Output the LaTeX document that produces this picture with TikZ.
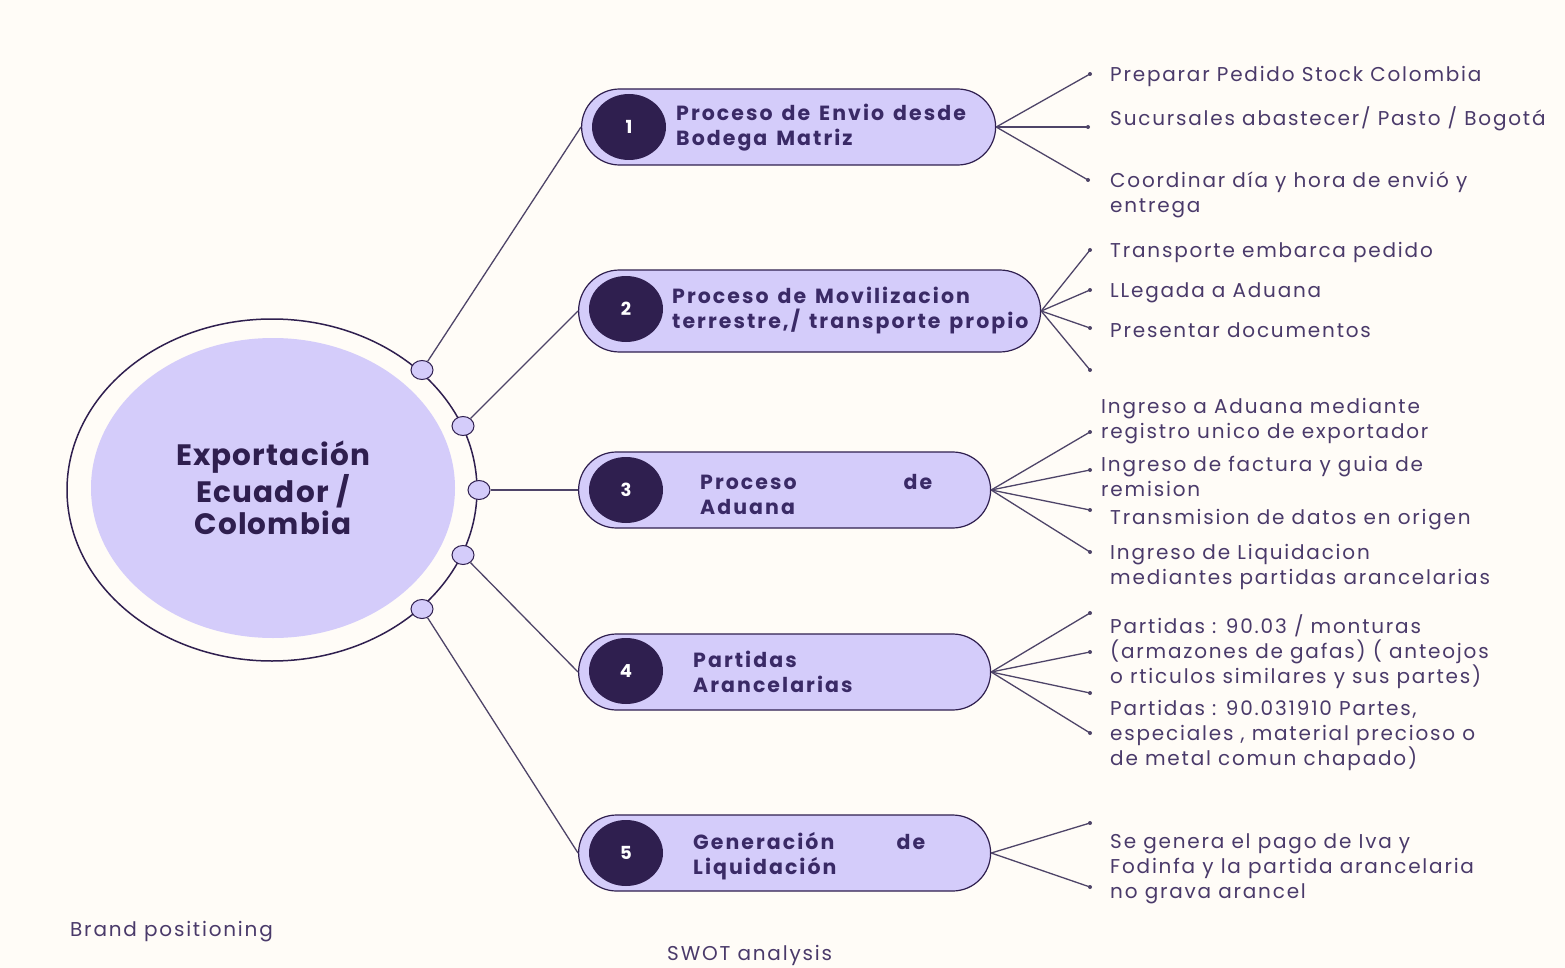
\documentclass[tikz,border=0pt]{standalone}
\usepackage{fontspec}
\setmainfont{Poppins}
\newfontfamily\leaffont[LetterSpace=9]{Poppins}
\newfontfamily\titlefont[LetterSpace=10,WordSpace=1.4]{Poppins}
\newfontfamily\hubfont[LetterSpace=4]{Poppins}
\usetikzlibrary{shapes.geometric}
\definecolor{bg}{HTML}{FFFCF7}
\definecolor{lav}{HTML}{D4CCFA}
\definecolor{ink}{HTML}{2F1F4F}
\definecolor{titleink}{HTML}{3A2A66}
\definecolor{txt}{HTML}{4A3A6A}
\definecolor{wirecol}{HTML}{4E4468}
\begin{document}
\begin{tikzpicture}[x=1pt,y=-1pt,
  hub/.style={ellipse, draw=ink, line width=1.5pt, minimum width=410pt, minimum height=342pt, inner sep=0},
  core/.style={ellipse, fill=lav, minimum width=364pt, minimum height=300pt, inner sep=0},
  port/.style={ellipse, draw=ink, fill=lav, line width=1pt, minimum width=22pt, minimum height=19pt, inner sep=0},
  pill/.style={draw=ink, fill=lav, line width=1.2pt, rounded corners=38pt, minimum height=76pt, inner sep=0, anchor=west},
  badge/.style={ellipse, fill=ink, text=white, font=\bfseries\fontsize{18}{20}\selectfont, minimum width=74pt, minimum height=66pt, inner sep=0},
  ptitle/.style={anchor=north west, align=left, text=titleink, font=\titlefont\bfseries\fontsize{20.5}{25}\selectfont, inner sep=0},
  leaf/.style={anchor=north west, align=left, text=txt, font=\leaffont\fontsize{20}{25}\selectfont, inner sep=0},
  wire/.style={draw=wirecol, line width=1.3pt},
  tip/.style={circle, fill=wirecol, inner sep=0, minimum size=4pt}]

% canvas
\fill[bg] (0,0) rectangle (1565,968);
\useasboundingbox (0,0) rectangle (1565,968);

% central hub
\node[hub] (hub) at (272,490) {};
\node[core, align=center, text=ink, font=\hubfont\bfseries\fontsize{29.5}{32}\selectfont] (core) at (273,488) {Exportación\\Ecuador /\\Colombia};

% process pills
\node[pill, minimum width=414pt] (p1) at (581,127) {};
\node[pill, minimum width=462pt, minimum height=82pt, rounded corners=41pt] (p2) at (578,311) {};
\node[pill, minimum width=412pt] (p3) at (578,490) {};
\node[pill, minimum width=412pt] (p4) at (578,672) {};
\node[pill, minimum width=412pt] (p5) at (578,853) {};

% numbered badges
\node[badge] (b1) at (629,127) {1};
\node[badge] (b2) at (626,309) {2};
\node[badge] (b3) at (626,490) {3};
\node[badge] (b4) at (626,671) {4};
\node[badge] (b5) at (626,853) {5};

% pill titles
\node[ptitle] (t1) at (676,104) {Proceso de Envio desde\\Bodega Matriz};
\node[ptitle] (t2) at (672,287) {Proceso de Movilizacion\\terrestre,/ transporte propio};
\node[ptitle, text width=232pt] (t3) at (700,474) {Proceso\hfill de\\Aduana};
\node[ptitle] (t4) at (693,651) {Partidas\\Arancelarias};
\node[ptitle, text width=232pt] (t5) at (693,832) {Generación\hfill de\\Liquidación};

% ports on the hub rim
\node[port] (q1) at (422,370) {};
\node[port] (q2) at (463,426) {};
\node[port] (q3) at (479,490) {};
\node[port] (q4) at (463,555) {};
\node[port] (q5) at (422,609) {};

% hub to pills
\draw[wire] (q1) -- (p1.west);
\draw[wire] (q2) -- (p2.west);
\draw[wire] (q3) -- (p3.west);
\draw[wire] (q4) -- (p4.west);
\draw[wire] (q5) -- (p5.west);

% branch ends
\coordinate (e11) at (1090,74);
\coordinate (e12) at (1088,127);
\coordinate (e13) at (1088,180);
\coordinate (e21) at (1090,250);
\coordinate (e22) at (1090,290);
\coordinate (e23) at (1090,328);
\coordinate (e24) at (1090,370);
\coordinate (e31) at (1090,432);
\coordinate (e32) at (1090,470);
\coordinate (e33) at (1090,510);
\coordinate (e34) at (1090,552);
\coordinate (e41) at (1090,613);
\coordinate (e42) at (1090,652);
\coordinate (e43) at (1090,693);
\coordinate (e44) at (1090,733);
\coordinate (e51) at (1090,823);
\coordinate (e52) at (1090,887);

\foreach \p/\list in {p1/{e11,e12,e13}, p2/{e21,e22,e23,e24}, p3/{e31,e32,e33,e34}, p4/{e41,e42,e43,e44}, p5/{e51,e52}} {
  \foreach \e in \list {
    \draw[wire] (\p.east) -- (\e);
    \node[tip] at (\e) {};
  }
}

% branch texts
\node[leaf] (l11) at (1110,66) {Preparar Pedido Stock Colombia};
\node[leaf] (l12) at (1110,106) {Sucursales abastecer/ Pasto / Bogotá};
\node[leaf] (l13) at (1110,172) {Coordinar día y hora de envió y\\entrega};
\node[leaf] (l21) at (1110,242) {Transporte embarca pedido};
\node[leaf] (l22) at (1110,282) {LLegada a Aduana};
\node[leaf] (l23) at (1110,322) {Presentar documentos};
\node[leaf] (l31) at (1101,398) {Ingreso a Aduana mediante\\registro unico de exportador};
\node[leaf] (l32) at (1101,456) {Ingreso de factura y guia de\\remision};
\node[leaf] (l33) at (1110,509) {Transmision de datos en origen};
\node[leaf] (l34) at (1110,544) {Ingreso de Liquidacion\\mediantes partidas arancelarias};
\node[leaf] (l41) at (1110,614) {Partidas : 90.03 / monturas\\(armazones de gafas) ( anteojos\\o rticulos similares y sus partes)};
\node[leaf] (l42) at (1110,700) {Partidas : 90.031910 Partes,\\especiales , material precioso o\\de metal comun chapado)};
\node[leaf] (l51) at (1110,833) {Se genera el pago de Iva y\\Fodinfa y la partida arancelaria\\no grava arancel};

% footer captions
\node[leaf] (cap1) at (70,921) {Brand positioning};
\node[leaf] (cap2) at (667,945) {SWOT analysis};
\end{tikzpicture}
\end{document}
